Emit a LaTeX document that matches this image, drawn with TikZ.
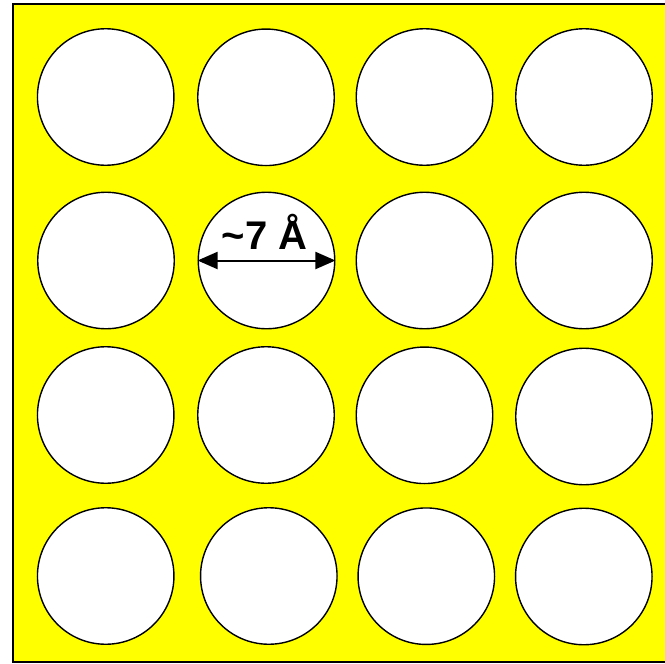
\documentclass[tikz,border=0pt]{standalone}
\usepackage{fontspec}
\setmainfont{Liberation Sans}
\usetikzlibrary{positioning,arrows.meta}
\definecolor{bgyellow}{RGB}{255,255,0}
\begin{document}
\begin{tikzpicture}[x=1pt,y=-1pt,
  pore/.style={circle,draw,fill=white,line width=1.4pt,minimum size=136.5pt,inner sep=0pt},
  every node/.style={font=\bfseries\fontsize{40}{48}\selectfont}]
\useasboundingbox (0,0) rectangle (665,664);
\fill[bgyellow] (13,4) rectangle (690,662);
\draw[line width=1.6pt] (690,4)--(13,4)--(13,662)--(690,662);
% the pores, row and column
\foreach \n/\x/\y in {11/105.7/97,12/266/97.3,13/424.5/97,14/584/97,
                      21/106/260.5,22/266.5/260.5,23/424.5/260.5,24/584/260.5,
                      31/105.7/415,32/266/415,33/424.5/415.3,34/584/416.5,
                      41/105.7/576,42/268.8/576,43/426.3/576.2,44/583.8/576.5}
  \node[pore] (p\n) at (\x,\y) {};
\draw[line width=2pt,{Triangle[length=20pt,width=17pt]}-{Triangle[length=20pt,width=17pt]}]
  (p22.west) -- (p22.east);
\node[anchor=base,inner sep=0pt] (size) at (264.5,249) {\textasciitilde7 Å};
\end{tikzpicture}
\end{document}
